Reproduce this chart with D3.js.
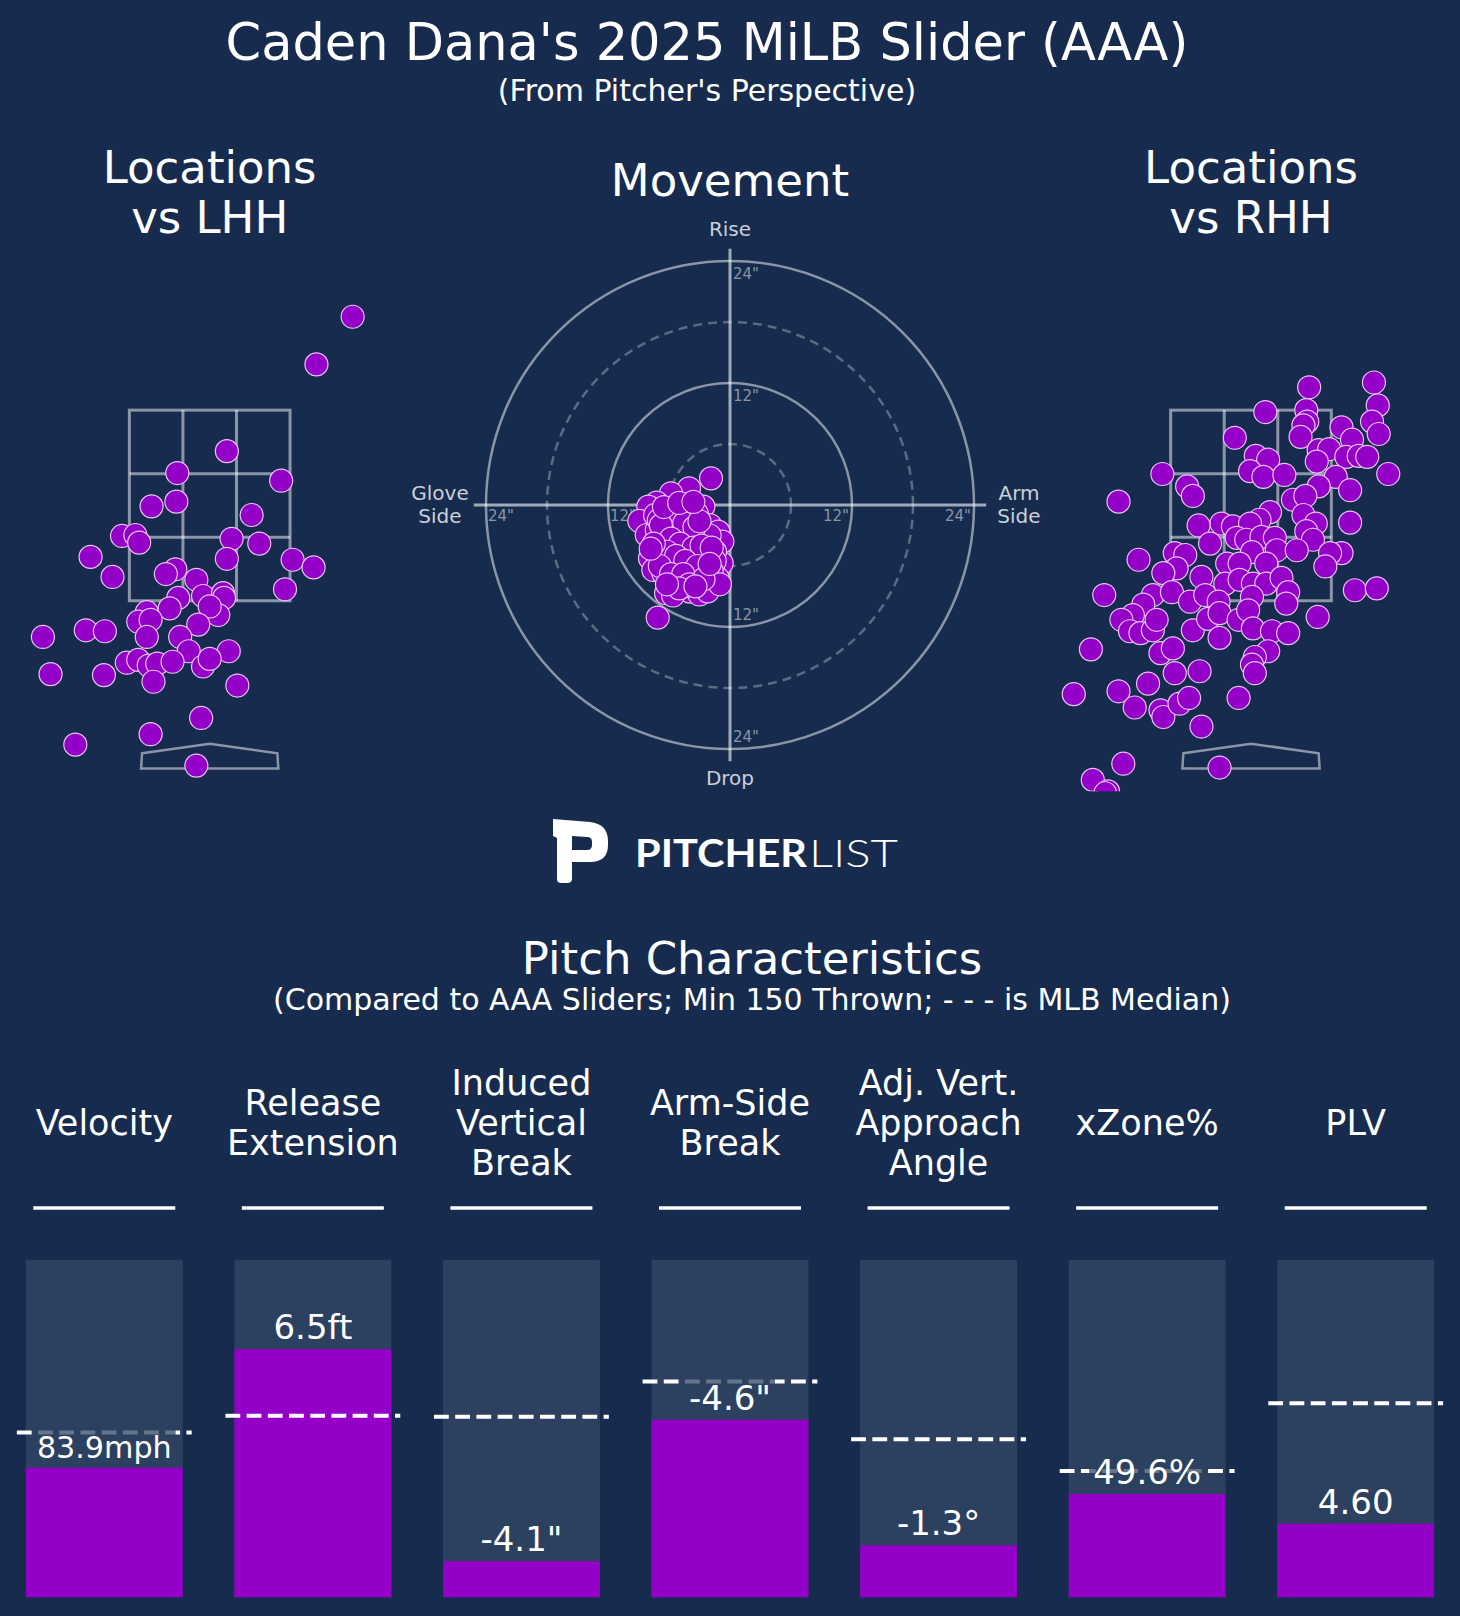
<!DOCTYPE html>
<html>
<head>
<meta charset="utf-8">
<script src="https://cdn.jsdelivr.net/npm/d3@7"></script>
<style>
  body { margin:0; background:#162b4e; }
  svg { display:block; font-family:'DejaVu Sans', sans-serif; }
</style>
</head>
<body>
<svg width="1460" height="1616"></svg>
<script>
//Data: pitch locations (plate_x, plate_z in feet, pitcher's view)
const lhhX = [1.50,1.12,0.18,-0.34,0.75,-0.61,-0.35,0.44,-0.92,-0.78,-0.74,0.23,0.52,-1.25,0.18,0.87,1.09,-1.02,-0.36,-0.46,
  0.79,-0.14,-0.33,-0.07,0.14,0.15,-0.42,-0.66,-0.75,-0.62,0.09,0.00,-0.12,-1.75,-1.30,-1.10,-0.66,-0.31,-0.22,0.20,
  -0.87,-0.75,-0.64,-0.55,-0.39,-0.07,0.00,-0.59,-1.67,-1.11,0.29,-0.09,-0.62,-1.41,-0.14];
const lhhZ = [4.48,3.98,3.07,2.84,2.76,2.49,2.54,2.40,2.18,2.19,2.11,2.15,2.10,1.96,1.94,1.93,1.85,1.75,1.83,1.78,
  1.62,1.72,1.53,1.55,1.58,1.53,1.42,1.38,1.28,1.30,1.35,1.44,1.25,1.12,1.19,1.18,1.12,1.12,0.97,0.97,
  0.85,0.88,0.82,0.84,0.86,0.81,0.89,0.65,0.73,0.72,0.61,0.27,0.10,-0.01,-0.23];

const rhhX = [0.61,1.29,1.33,0.15,0.58,0.59,0.55,0.52,0.95,1.27,1.34,-0.17,1.06,0.71,0.82,0.69,1.00,1.13,1.22,1.44,
  0.05,0.18,-0.01,0.13,0.35,-0.93,-0.67,-0.61,-1.39,0.89,0.71,1.04,0.44,0.57,1.04,0.55,0.68,0.58,0.65,0.20,
  0.09,-0.31,-0.55,-0.19,-0.01,-0.43,-0.15,-0.05,0.11,0.25,0.27,0.48,0.01,0.95,0.83,0.78,-0.25,-0.12,0.16,-1.18,
  -0.80,-0.69,-0.78,-0.92,-0.52,-0.27,-0.12,0.02,0.16,0.32,0.39,1.09,1.32,-1.54,-1.03,-0.83,-0.64,-0.48,-0.34,0.01,
  0.37,-1.13,-1.24,-1.36,-1.27,-1.16,-1.03,-0.99,-0.61,-0.45,-0.33,-0.13,-0.03,0.02,0.22,0.39,0.70,-0.33,-1.68,-0.95,
  -0.82,0.18,0.04,0.01,0.04,-0.80,-0.54,-1.08,-1.39,-1.86,-1.22,-0.95,-0.92,-0.75,-0.65,-0.13,-0.52,-1.34,-0.33,-1.66,
  -1.50,-1.53];
const rhhZ = [3.74,3.79,3.55,3.48,3.50,3.38,3.34,3.22,3.32,3.38,3.25,3.21,3.19,3.08,3.09,2.96,3.01,3.02,3.01,2.83,
  3.02,2.98,2.86,2.80,2.82,2.83,2.70,2.60,2.54,2.80,2.70,2.66,2.56,2.60,2.32,2.40,2.31,2.23,2.14,2.43,
  2.35,2.31,2.29,2.28,2.31,2.10,2.16,2.14,2.17,2.16,2.03,2.03,2.01,2.00,2.00,1.86,1.89,1.89,1.89,1.93,
  2.00,1.98,1.84,1.79,1.75,1.68,1.72,1.68,1.68,1.74,1.59,1.61,1.63,1.56,1.56,1.59,1.49,1.56,1.49,1.54,
  1.47,1.46,1.35,1.30,1.18,1.16,1.19,1.30,1.19,1.31,1.37,1.30,1.40,1.21,1.18,1.16,1.33,1.11,0.99,0.95,
  1.00,0.97,0.91,0.83,0.74,0.74,0.76,0.63,0.55,0.52,0.38,0.35,0.28,0.42,0.48,0.48,0.18,-0.21,-0.25,-0.38,
  -0.50,-0.52];

//Movement (inches): horizontal break (arm side +), induced vertical break
const movX = [-1.87,-4.03,-5.80,-7.21,-8.03,-8.92,-4.85,-2.62,-5.90,-3.93,-1.97,-1.15,-0.75,-8.19,-6.39,-3.93,-2.62,-7.87,-5.57,-2.79,
  -0.82,-4.26,-5.90,-1.21,-2.95,-6.29,-7.11,-4.92,-3.93,-7.54,-6.72,-7.20,-7.37,-5.41,-3.28,-1.47,-5.24,-6.72,-5.24,-2.29,
  -3.61,-4.59,-2.95,-5.57,-2.29,-3.93,-6.56,-3.93,-2.13,-5.24,-5.73,-4.50,-5.00,-4.00,-3.50,-4.80,-5.50,-3.00,-4.20,-6.00,
  -3.20,-5.00,-2.50,-6.30,-4.00,-5.20,-2.00,-1.50,-1.80,-6.80,-7.00,-3.00,-4.50,-5.60,-2.20,-1.00,
  -6.00,-4.50,-3.50,-6.80,-5.80,-4.90,-3.60,-2.80,-6.20,-5.30,-4.40,-3.20,-6.90,-5.80,-4.60,-2.60,-4.00,-5.00,-3.40,-6.20,
  -7.50,-1.80,-2.00,-3.00,-6.50,-5.00,-3.60,-7.80];
const movZ = [2.62,1.64,1.15,0.23,-0.16,-1.57,-0.33,-0.16,-1.64,-1.31,-1.97,-2.62,-3.60,-2.95,-3.93,-3.44,-3.77,-5.24,-5.57,-5.57,
  -5.73,-7.05,-7.37,-7.21,-8.03,-8.68,-11.08,-8.36,-8.52,-6.39,-3.60,-2.46,-0.98,-0.66,-0.82,-4.59,-4.42,-5.41,-6.72,-6.72,
  -6.39,-2.62,-2.62,-2.79,-5.08,-4.92,-6.72,-7.37,-7.70,-7.70,-6.39,-3.00,-2.00,-4.00,-5.00,-5.20,-4.00,-3.20,-6.00,-5.50,
  -7.00,-7.00,-4.50,-2.50,-1.00,-1.20,-3.00,-5.50,-6.50,-4.80,-1.50,-8.80,-8.00,-8.90,-8.50,-7.80,
  -1.00,-1.80,-2.20,-2.00,-3.30,-3.80,-4.20,-4.00,-4.60,-5.00,-5.50,-6.00,-6.00,-6.80,-6.80,-7.30,-7.80,-8.20,-8.00,-7.80,
  -3.80,-4.20,-5.80,-1.60,-0.20,0.20,0.30,-4.30];
const ringSolid = [12, 24];
const ringDashed = [6, 18];

//Pitch characteristics
const metrics = ['Velocity', 'Release\nExtension', 'Induced\nVertical\nBreak', 'Arm-Side\nBreak',
  'Adj. Vert.\nApproach\nAngle', 'xZone%', 'PLV'];
const valueLabels = ['83.9mph', '6.5ft', '-4.1"', '-4.6"', '-1.3°', '49.6%', '4.60'];
const barValues = [38.4, 73.5, 10.7, 52.6, 15.4, 30.6, 21.8];   //position in AAA range (0-100)
const medianValues = [48.8, 53.8, 53.5, 63.9, 46.8, 37.4, 57.5];

//Styles
const bg = '#162b4e';
const purple = '#9400c8';
const dotStroke = '#e6c6f5';
const svg = d3.select('svg');
svg.append('rect').attr('width', 1460).attr('height', 1616).attr('fill', bg);

//Titles
svg.append('text').attr('x', 707).attr('y', 60).attr('text-anchor', 'middle')
  .attr('font-size', 51).attr('fill', 'white').text("Caden Dana's 2025 MiLB Slider (AAA)");
svg.append('text').attr('x', 707).attr('y', 101).attr('text-anchor', 'middle')
  .attr('font-size', 30).attr('fill', 'white').text("(From Pitcher's Perspective)");

function multiText(g, x, y, lines, size, lineH, fill) {
  const t = g.append('text').attr('x', x).attr('y', y).attr('text-anchor', 'middle')
    .attr('font-size', size).attr('fill', fill);
  lines.forEach((l, i) => t.append('tspan').attr('x', x).attr('y', y + i * lineH).text(l));
  return t;
}

//Location plots
const pxPerFt = 95.3;
function drawLocations(cx, xs, zs, title, id) {
  const g = svg.append('g');
  const x = d3.scaleLinear().domain([-2.1, 2.1]).range([cx - 2.1 * pxPerFt, cx + 2.1 * pxPerFt]);
  const y = d3.scaleLinear().domain([-0.5, 5]).range([743.7 + 0.5 * pxPerFt, 743.7 - 5 * pxPerFt]);

  multiText(g, cx, 183, title, 45, 50, 'white');

  svg.append('clipPath').attr('id', id).append('rect')
    .attr('x', x(-2.1)).attr('y', y(5)).attr('width', x(2.1) - x(-2.1)).attr('height', y(-0.5) - y(5));

  //strike zone, 3x3
  const zl = -0.843, zr = 0.843, zb = 1.5, zt = 3.5;
  const lineC = 'rgba(255,255,255,0.5)';
  g.append('rect').attr('x', x(zl)).attr('y', y(zt)).attr('width', x(zr) - x(zl)).attr('height', y(zb) - y(zt))
    .attr('fill', 'none').attr('stroke', lineC).attr('stroke-width', 3);
  [1, 2].forEach(k => {
    const xv = zl + (zr - zl) * k / 3, yv = zb + (zt - zb) * k / 3;
    g.append('line').attr('x1', x(xv)).attr('x2', x(xv)).attr('y1', y(zt)).attr('y2', y(zb))
      .attr('stroke', lineC).attr('stroke-width', 3);
    g.append('line').attr('x1', x(zl)).attr('x2', x(zr)).attr('y1', y(yv)).attr('y2', y(yv))
      .attr('stroke', lineC).attr('stroke-width', 3);
  });
  //home plate
  const plate = [[-0.71, -0.1], [0, 0], [0.71, -0.1], [0.72, -0.26], [-0.72, -0.26]];
  g.append('path').attr('d', d3.line().x(d => x(d[0])).y(d => y(d[1]))(plate) + 'Z')
    .attr('fill', 'none').attr('stroke', lineC).attr('stroke-width', 2.5);

  g.append('g').attr('clip-path', 'url(#' + id + ')')
    .selectAll('circle').data(d3.range(xs.length)).join('circle')
    .attr('cx', i => x(xs[i])).attr('cy', i => y(zs[i])).attr('r', 11.5)
    .attr('fill', purple).attr('stroke', dotStroke).attr('stroke-width', 1.2);
}
drawLocations(209.7, lhhX, lhhZ, ['Locations', 'vs LHH'], 'clipL');
drawLocations(1251, rhhX, rhhZ, ['Locations', 'vs RHH'], 'clipR');

//Movement plot
const mv = svg.append('g');
const mcx = 730, mcy = 505;
const mvX = d3.scaleLinear().domain([-24, 24]).range([mcx - 244, mcx + 244]);
const mvY = d3.scaleLinear().domain([-24, 24]).range([mcy + 244, mcy - 244]);
mv.append('text').attr('x', mcx).attr('y', 196).attr('text-anchor', 'middle')
  .attr('font-size', 45).attr('fill', 'white').text('Movement');

ringSolid.forEach(r => mv.append('circle').attr('cx', mcx).attr('cy', mcy).attr('r', mvX(r) - mvX(0))
  .attr('fill', 'none').attr('stroke', 'rgba(255,255,255,0.5)').attr('stroke-width', 2.5));
ringDashed.forEach(r => mv.append('circle').attr('cx', mcx).attr('cy', mcy).attr('r', mvX(r) - mvX(0))
  .attr('fill', 'none').attr('stroke', 'rgba(255,255,255,0.3)').attr('stroke-width', 2.5)
  .attr('stroke-dasharray', '9,6'));
mv.append('line').attr('x1', mvX(-25.2)).attr('x2', mvX(25.2)).attr('y1', mcy).attr('y2', mcy)
  .attr('stroke', 'rgba(255,255,255,0.6)').attr('stroke-width', 3);
mv.append('line').attr('x1', mcx).attr('x2', mcx).attr('y1', mvY(25.2)).attr('y2', mvY(-25.2))
  .attr('stroke', 'rgba(255,255,255,0.6)').attr('stroke-width', 3);

//ring tick labels
const tickC = 'rgba(255,255,255,0.5)';
ringSolid.forEach(r => {
  const lab = r + '"';
  mv.append('text').attr('x', mcx + 3).attr('y', mvY(r) + 17.5).attr('font-size', 15).attr('fill', tickC).text(lab);
  mv.append('text').attr('x', mcx + 3).attr('y', mvY(-r) - 7).attr('font-size', 15).attr('fill', tickC).text(lab);
  mv.append('text').attr('x', mvX(-r) + 2).attr('y', mcy + 15.5).attr('font-size', 15).attr('fill', tickC).text(lab);
  mv.append('text').attr('x', mvX(r) - 3).attr('y', mcy + 15.5).attr('text-anchor', 'end')
    .attr('font-size', 15).attr('fill', tickC).text(lab);
});
const dirC = 'rgba(255,255,255,0.78)';
multiText(mv, mcx, 236, ['Rise'], 20, 23, dirC);
multiText(mv, mcx, 785, ['Drop'], 20, 23, dirC);
multiText(mv, 440, 500, ['Glove', 'Side'], 20, 23, dirC);
multiText(mv, 1019, 500, ['Arm', 'Side'], 20, 23, dirC);

mv.append('g').selectAll('circle').data(d3.range(movX.length)).join('circle')
  .attr('cx', i => mvX(movX[i])).attr('cy', i => mvY(movZ[i])).attr('r', 11.5)
  .attr('fill', purple).attr('stroke', dotStroke).attr('stroke-width', 1.2);

//Logo
const logo = svg.append('g');
logo.append('path').attr('fill-rule', 'evenodd').attr('fill', 'white')
  .attr('d', 'M553,819 L590,822 Q608,824 608,841 L608,845 Q608,862 590,862 L572,862 L572,879 Q572,883 567,883 ' +
    'L561,883 Q557,883 557,879 L557,838 L553,836 Z M572,836 L587,837 Q592,837 592,842 L592,845 Q592,850 587,850 L572,850 Z');
logo.append('text').attr('x', 635).attr('y', 866.7).attr('font-family', 'Lato, sans-serif').attr('font-weight', 700)
  .attr('font-size', 38).attr('fill', 'white').attr('textLength', 172).attr('lengthAdjust', 'spacingAndGlyphs').text('PITCHER');
logo.append('text').attr('x', 809).attr('y', 866.7).attr('font-family', 'Lato, sans-serif').attr('font-weight', 300)
  .attr('font-size', 38).attr('fill', 'white').attr('textLength', 89).attr('lengthAdjust', 'spacingAndGlyphs').text('LIST');

//Pitch characteristics
svg.append('text').attr('x', 752).attr('y', 974).attr('text-anchor', 'middle')
  .attr('font-size', 45).attr('fill', 'white').text('Pitch Characteristics');
svg.append('text').attr('x', 752).attr('y', 1010).attr('text-anchor', 'middle')
  .attr('font-size', 30).attr('fill', 'white').text('(Compared to AAA Sliders; Min 150 Thrown; - - - is MLB Median)');

const xBand = d3.scaleBand().domain(metrics).range([0, 1460]).paddingInner(0.248).paddingOuter(0.124);
const yBar = d3.scaleLinear().domain([0, 100]).range([1597.3, 1259.7]);
const bars = svg.append('g');

metrics.forEach((m, i) => {
  const x0 = xBand(m), w = xBand.bandwidth(), cx = x0 + w / 2;
  const lines = m.split('\n');
  multiText(bars, cx, 1135 - (lines.length - 1) * 20, lines, 35, 40, 'white');
  bars.append('line').attr('x1', cx - 71).attr('x2', cx + 71).attr('y1', 1208).attr('y2', 1208)
    .attr('stroke', 'white').attr('stroke-width', 3.5);

  bars.append('rect').attr('x', x0).attr('y', yBar(100)).attr('width', w).attr('height', yBar(0) - yBar(100))
    .attr('fill', 'rgba(255,255,255,0.1)');
  bars.append('rect').attr('x', x0).attr('y', yBar(barValues[i])).attr('width', w)
    .attr('height', yBar(0) - yBar(barValues[i])).attr('fill', purple);
  bars.append('line').attr('x1', x0 - 9).attr('x2', x0 + w + 9)
    .attr('y1', yBar(medianValues[i])).attr('y2', yBar(medianValues[i]))
    .attr('stroke', 'white').attr('stroke-width', 4).attr('stroke-dasharray', '14.8,6.4');

  const lbl = bars.append('g');
  const t = lbl.append('text').attr('x', cx).attr('y', yBar(barValues[i]) - 10).attr('text-anchor', 'middle')
    .attr('font-size', 34).attr('fill', 'white').text(valueLabels[i]);
  //shrink labels that would crowd the bar
  let tw = t.node().getComputedTextLength();
  if (tw > 0.86 * w) t.attr('font-size', 34 * 0.86 * w / tw);
  const bb = t.node().getBBox();
  lbl.insert('rect', 'text').attr('x', bb.x - 4).attr('y', bb.y - 2).attr('width', bb.width + 8)
    .attr('height', bb.height + 2).attr('fill', '#2d4060').attr('opacity', 0.72);
});
</script>
</body>
</html>
